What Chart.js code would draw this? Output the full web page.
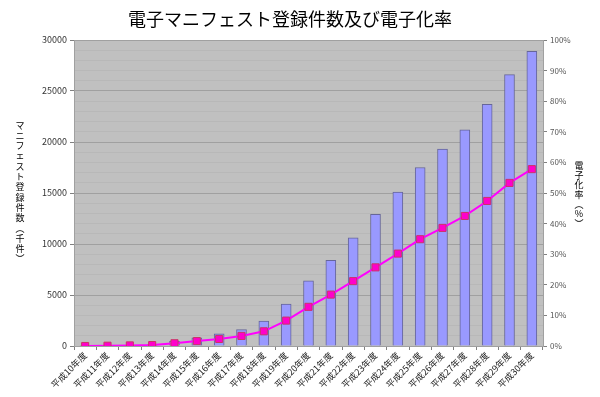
<!DOCTYPE html>
<html>
<head>
<meta charset="utf-8">
<script src="https://cdn.jsdelivr.net/npm/chart.js@4/dist/chart.umd.min.js"></script>
<style>
html,body{margin:0;padding:0;background:#fff;}
#wrap{width:600px;height:397px;position:relative;}
</style>
</head>
<body>
<div id="wrap"><canvas id="c" width="600" height="397"></canvas></div>
<script>
const categories = ['平成10年度','平成11年度','平成12年度','平成13年度','平成14年度','平成15年度','平成16年度','平成17年度','平成18年度','平成19年度','平成20年度','平成21年度','平成22年度','平成23年度','平成24年度','平成25年度','平成26年度','平成27年度','平成28年度','平成29年度','平成30年度'];
const registrations = [10, 30, 60, 150, 450, 800, 1200, 1600, 2450, 4100, 6400, 8400, 10600, 12900, 15100, 17500, 19300, 21200, 23700, 26600, 28900];
const rate = [0.0, 0.1, 0.2, 0.3, 0.9, 1.6, 2.3, 3.3, 4.8, 8.3, 12.8, 16.8, 21.2, 25.7, 30.2, 34.9, 38.6, 42.5, 47.4, 53.3, 57.8];
const titleText = '電子マニフェスト登録件数及び電子化率';
const leftTitle = 'マニフェスト登録件数（千件）';
const rightTitle = '電子化率（%）';

const FONT = '"Noto Sans CJK JP", "Noto Sans", sans-serif';
const VERT = {'（': '︵', '）': '︶'};

function drawVertical(ctx, text, x, y0, step, size) {
  ctx.save();
  ctx.font = size + 'px ' + FONT;
  ctx.fillStyle = '#000';
  ctx.textAlign = 'center';
  ctx.textBaseline = 'middle';
  Array.from(text).forEach((ch, i) => {
    const cy = y0 + step * i + step / 2;
    ctx.fillText(VERT[ch] || ch, x, cy);
  });
  ctx.restore();
}

const decor = {
  id: 'decor',
  beforeDraw(chart) {
    const {ctx, chartArea: a} = chart;
    ctx.save();
    ctx.fillStyle = '#fff';
    ctx.fillRect(0, 0, chart.width, chart.height);
    ctx.fillStyle = '#C0C0C0';
    ctx.fillRect(a.left, a.top, a.right - a.left, a.bottom - a.top);
    ctx.restore();
  },
  afterDraw(chart) {
    const {ctx} = chart;
    ctx.save();
    ctx.font = '18px ' + FONT;
    ctx.fillStyle = '#000';
    ctx.textAlign = 'center';
    ctx.textBaseline = 'middle';
    ctx.fillText(titleText, 290, 19);
    ctx.restore();
    drawVertical(ctx, leftTitle, 20, 120, 10.3, 9);
    drawVertical(ctx, rightTitle, 579, 161, 9.6, 9);
  }
};

new Chart(document.getElementById('c'), {
  data: {
    labels: categories,
    datasets: [
      {
        type: 'line',
        label: '電子化率',
        data: rate.map(v => v / 100),
        yAxisID: 'y2',
        borderColor: '#FF00FF',
        borderWidth: 2,
        pointStyle: 'rect',
        pointRadius: 5,
        pointBackgroundColor: '#FF00CC',
        pointBorderColor: '#CC3366',
        pointBorderWidth: 1,
        tension: 0,
        order: 0
      },
      {
        type: 'bar',
        label: '登録件数',
        data: registrations,
        yAxisID: 'y',
        backgroundColor: '#9999FF',
        borderColor: '#666699',
        borderWidth: 1,
        barThickness: 10,
        order: 1
      }
    ]
  },
  options: {
    responsive: false,
    animation: false,
    devicePixelRatio: 1,
    layout: {padding: {top: 40, left: 0, right: 0, bottom: 0}},
    plugins: {legend: {display: false}, title: {display: false}, tooltip: {enabled: false}},
    scales: {
      x: {
        offset: true,
        grid: {display: true, offset: true, drawOnChartArea: false, tickLength: 4, color: '#808080'},
        border: {color: '#a0a0a0'},
        ticks: {
          maxRotation: 45, minRotation: 45, autoSkip: false,
          color: '#222', font: {family: FONT, size: 9}, padding: 0
        },
        afterFit(s) { s.height = 51; }
      },
      y: {
        position: 'left',
        min: 0, max: 30000,
        grid: {
          color: c => (c.tick && c.tick.value % 5000 === 0) ? '#a0a0a0' : '#b8b8b8',
          tickColor: c => (c.tick && c.tick.value % 5000 === 0) ? '#808080' : 'rgba(0,0,0,0)',
          tickLength: 4
        },
        border: {color: '#a0a0a0'},
        ticks: {
          stepSize: 1000, maxTicksLimit: 40, autoSkip: false,
          callback: v => (v % 5000 === 0 ? String(v) : ''),
          color: '#333', font: {family: FONT, size: 9}, padding: 3
        },
        afterFit(s) { s.width = 74; }
      },
      y2: {
        position: 'right',
        min: 0, max: 1,
        grid: {drawOnChartArea: false, tickLength: 4, color: '#808080'},
        border: {color: '#a0a0a0'},
        ticks: {
          stepSize: 0.1, autoSkip: false,
          callback: v => Math.round(v * 100) + '%',
          color: '#555', font: {family: FONT, size: 8}, padding: 3
        },
        afterFit(s) { s.width = 57; }
      }
    }
  },
  plugins: [decor]
});
</script>
</body>
</html>
